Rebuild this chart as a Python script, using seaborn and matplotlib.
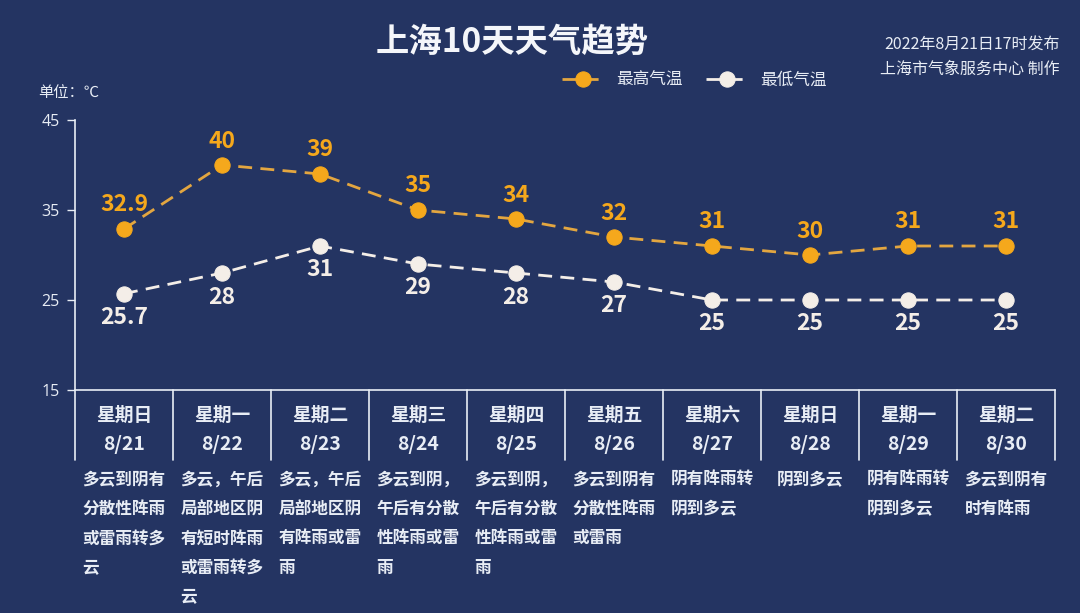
import matplotlib
matplotlib.use("Agg")
import matplotlib.pyplot as plt
import matplotlib.transforms as mtransforms
import seaborn as sns
import pandas as pd

# ---- data ----
weekdays = ["星期日", "星期一", "星期二", "星期三", "星期四", "星期五", "星期六", "星期日", "星期一", "星期二"]
dates = ["8/21", "8/22", "8/23", "8/24", "8/25", "8/26", "8/27", "8/28", "8/29", "8/30"]
high_temps = [32.9, 40, 39, 35, 34, 32, 31, 30, 31, 31]
low_temps = [25.7, 28, 31, 29, 28, 27, 25, 25, 25, 25]
high_labels = ["32.9", "40", "39", "35", "34", "32", "31", "30", "31", "31"]
low_labels = ["25.7", "28", "31", "29", "28", "27", "25", "25", "25", "25"]
descriptions = [
    "多云到阴有\n分散性阵雨\n或雷雨转多\n云",
    "多云，午后\n局部地区阴\n有短时阵雨\n或雷雨转多\n云",
    "多云，午后\n局部地区阴\n有阵雨或雷\n雨",
    "多云到阴，\n午后有分散\n性阵雨或雷\n雨",
    "多云到阴，\n午后有分散\n性阵雨或雷\n雨",
    "多云到阴有\n分散性阵雨\n或雷雨",
    "阴有阵雨转\n阴到多云",
    "阴到多云",
    "阴有阵雨转\n阴到多云",
    "多云到阴有\n时有阵雨",
]
y_ticks = [15, 25, 35, 45]

BG = "#243462"
ORANGE = "#f5a81c"
ORANGE_LINE = "#e3a640"
WHITE = "#f4eee8"
TXT = "#e8edf5"

sns.set_theme(style="white")
plt.rcParams["font.family"] = ["Noto Sans CJK SC", "DejaVu Sans"]
plt.rcParams["axes.unicode_minus"] = False

df = pd.DataFrame({"x": list(range(len(dates))), "high": high_temps, "low": low_temps})

fig = plt.figure(figsize=(10.8, 6.13), dpi=100, facecolor=BG)
ax = fig.add_axes([75 / 1080, 1 - 390 / 613, 980 / 1080, 270 / 613])
ax.set_facecolor(BG)

sns.lineplot(data=df, x="x", y="high", ax=ax, color=ORANGE_LINE, linewidth=2,
             linestyle=(0, (5, 3)), marker="o", markersize=11,
             markerfacecolor=ORANGE, markeredgecolor=ORANGE, label="最高气温", zorder=3)
sns.lineplot(data=df, x="x", y="low", ax=ax, color=WHITE, linewidth=2,
             linestyle=(0, (5, 3)), marker="o", markersize=11,
             markerfacecolor=WHITE, markeredgecolor=WHITE, label="最低气温", zorder=3)

for i, (h, lab) in enumerate(zip(high_temps, high_labels)):
    ax.annotate(lab, (i, h), xytext=(0, 9), textcoords="offset points",
                ha="center", va="bottom", color=ORANGE, fontsize=16.5, fontweight="bold")
for i, (l, lab) in enumerate(zip(low_temps, low_labels)):
    ax.annotate(lab, (i, l), xytext=(0, -9), textcoords="offset points",
                ha="center", va="top", color=WHITE, fontsize=16.5, fontweight="bold")

ax.set_xlim(-0.5, len(dates) - 0.5)
ax.set_ylim(15, 45)
ax.set_yticks(y_ticks)
ax.set_yticklabels([str(t) for t in y_ticks], color=TXT, fontsize=11.5, family=["Open Sans", "DejaVu Sans"])
ax.set_xticks([])
ax.set_xlabel("")
ax.set_ylabel("")
ax.tick_params(axis="y", direction="out", length=6, width=1, color=TXT, left=True, pad=5)
for s in ["top", "right"]:
    ax.spines[s].set_visible(False)
for s in ["left", "bottom"]:
    ax.spines[s].set_color(TXT)
    ax.spines[s].set_linewidth(1.2)

# table under the axis
trans = mtransforms.blended_transform_factory(ax.transData, ax.transAxes)
for k in range(len(dates) + 1):
    ax.plot([k - 0.5, k - 0.5], [0, -70 / 270], transform=trans, color=TXT,
            linewidth=1.2, clip_on=False)
for i in range(len(dates)):
    ax.text(i, -25 / 270, weekdays[i], transform=trans, ha="center", va="center",
            color=TXT, fontsize=13.5, fontweight="bold")
    ax.text(i, -55 / 270, dates[i], transform=trans, ha="center", va="center",
            color=TXT, fontsize=14, fontweight="bold")
    ax.text(i, -81 / 270, descriptions[i], transform=trans, ha="center", va="top",
            multialignment="left", color=TXT, fontsize=12, fontweight="bold",
            linespacing=1.8)

leg = ax.legend(loc="center", frameon=False, ncol=2,
                fontsize=12, labelcolor=TXT, handlelength=2.6, columnspacing=1.4,
                handletextpad=0.65)
leg.set_bbox_to_anchor((694 / 1080, 1 - 80 / 613), transform=fig.transFigure)

fig.text(512 / 1080, 1 - 42 / 613, "上海10天天气趋势", ha="center", va="center",
         color="#f4f6fa", fontsize=24, fontweight="bold")
fig.text(1060 / 1080, 1 - 44 / 613, "2022年8月21日17时发布", ha="right", va="center",
         color=TXT, fontsize=11.5)
fig.text(1060 / 1080, 1 - 69 / 613, "上海市气象服务中心 制作", ha="right", va="center",
         color=TXT, fontsize=11.5)
fig.text(38 / 1080, 1 - 93 / 613, "单位：℃", ha="left", va="center", color=TXT, fontsize=11)

fig.savefig("out.png", dpi=100, facecolor=BG)
